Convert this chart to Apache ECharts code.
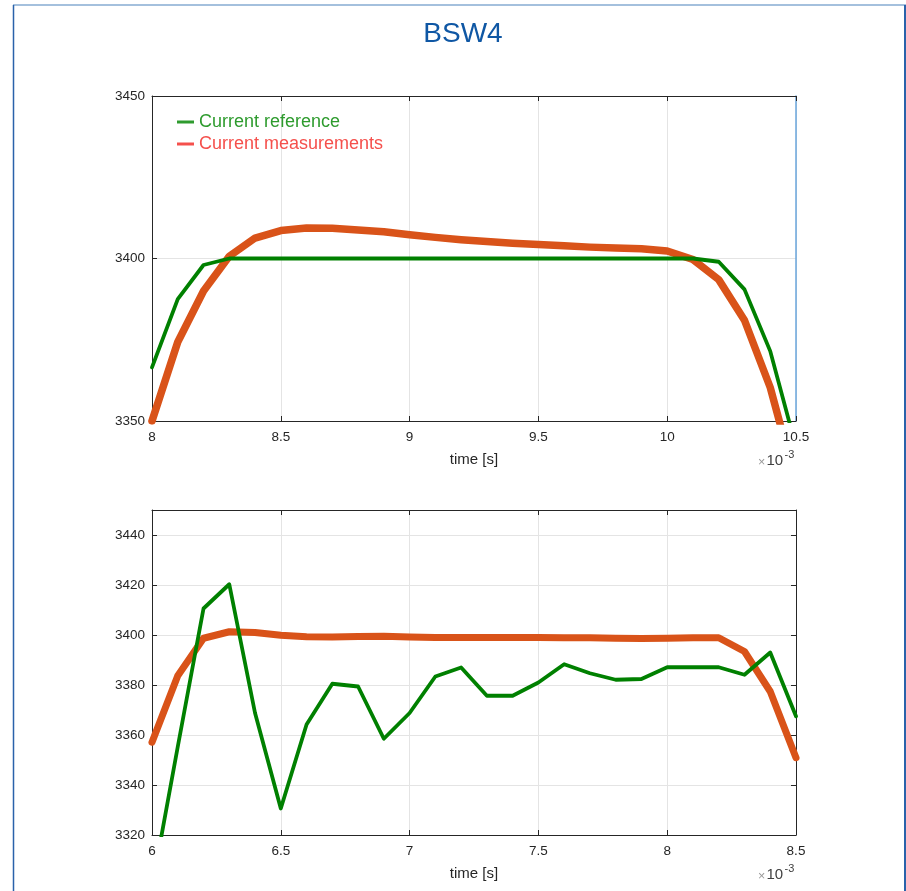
<!DOCTYPE html>
<html>
<head>
<meta charset="utf-8">
<script src="https://cdn.jsdelivr.net/npm/echarts@6/dist/echarts.min.js"></script>
<style>
  html, body { margin: 0; padding: 0; background: #fff; }
  #chart { width: 906px; height: 891px; }
</style>
</head>
<body>
<div id="chart"></div>
<script>
// ---- data (time in ms, the axes carry a x10^-3 multiplier) ----
const titleText = 'BSW4';
const seriesNames = ['Current reference', 'Current measurements'];
const axisTitle = 'time [s]';

const timeTop = [8.0, 8.1, 8.2, 8.3, 8.4, 8.5, 8.6, 8.7, 8.8, 8.9, 9.0, 9.1, 9.2,
                 9.3, 9.4, 9.5, 9.6, 9.7, 9.8, 9.9, 10.0, 10.1, 10.2, 10.3, 10.4, 10.5];
const refTop = [3366.5, 3387.5, 3398, 3400, 3400, 3400, 3400, 3400, 3400, 3400, 3400, 3400, 3400,
                3400, 3400, 3400, 3400, 3400, 3400, 3400, 3400, 3400, 3399, 3390.5, 3371.5, 3342];
const measTop = [3350, 3374.3, 3390, 3400.7, 3406.3, 3408.6, 3409.4, 3409.3, 3408.8, 3408.2, 3407.3, 3406.5, 3405.8,
                 3405.2, 3404.7, 3404.3, 3403.9, 3403.5, 3403.2, 3403.0, 3402.3, 3399.7, 3393.5, 3381, 3360.3, 3331];

const timeBottom = [6.0, 6.1, 6.2, 6.3, 6.4, 6.5, 6.6, 6.7, 6.8, 6.9, 7.0, 7.1, 7.2,
                    7.3, 7.4, 7.5, 7.6, 7.7, 7.8, 7.9, 8.0, 8.1, 8.2, 8.3, 8.4, 8.5];
const refBottom = [3299, 3355.3, 3410.6, 3420.3, 3368.8, 3330.6, 3364.2, 3380.5, 3379.4, 3358.5, 3368.8, 3383.4, 3387,
                   3375.7, 3375.7, 3381, 3388.3, 3384.7, 3382.1, 3382.4, 3387.1, 3387.1, 3387.1, 3384.1, 3393, 3367.5];
const measBottom = [3357.1, 3383.7, 3398.7, 3401.3, 3401.0, 3399.9, 3399.3, 3399.2, 3399.4, 3399.5, 3399.2, 3399.0, 3399.0,
                    3399.0, 3399.0, 3399.0, 3398.9, 3398.9, 3398.7, 3398.6, 3398.7, 3398.9, 3398.9, 3393.4, 3377.4, 3350.9];

// axis ranges: [min, max, interval]
const xRangeTop = [8, 10.5, 0.5];
const yRangeTop = [3350, 3450, 50];
const xRangeBottom = [6, 8.5, 0.5];
const yRangeBottom = [3320, 3450, 20];

// ---- styling ----
const FONT = 'Liberation Sans, Arial, Helvetica, sans-serif';
const AXIS_COLOR = '#262626';
const GRID_COLOR = '#e4e4e4';
const REF_COLOR = '#008000';
const MEAS_COLOR = '#d95319';

const pairs = (xs, ys) => xs.map((x, i) => [x, ys[i]]);
const plain = v => String(Math.round(v * 1000) / 1000);

function boxAxes(gridIndex, xr, yr, rightColor) {
  const tick = { show: true, inside: true, length: 5, lineStyle: { color: AXIS_COLOR, width: 1 } };
  const line = { show: true, lineStyle: { color: AXIS_COLOR, width: 1 } };
  const x = [
    {
      type: 'value', gridIndex, position: 'bottom', min: xr[0], max: xr[1], interval: xr[2],
      axisLine: line, axisTick: tick,
      axisLabel: { color: AXIS_COLOR, fontSize: 13.5, margin: 9, fontFamily: FONT, formatter: plain },
      splitLine: { show: true, lineStyle: { color: GRID_COLOR, width: 1 } },
      name: axisTitle, nameLocation: 'middle', nameGap: 31,
      nameTextStyle: { color: AXIS_COLOR, fontSize: 15, fontFamily: FONT }
    },
    {
      type: 'value', gridIndex, position: 'top', min: xr[0], max: xr[1], interval: xr[2],
      axisLine: line, axisTick: tick, axisLabel: { show: false }, splitLine: { show: false }
    }
  ];
  const y = [
    {
      type: 'value', gridIndex, position: 'left', min: yr[0], max: yr[1], interval: yr[2],
      axisLine: line, axisTick: tick,
      axisLabel: { color: AXIS_COLOR, fontSize: 13.5, margin: 7, fontFamily: FONT, formatter: plain,
                   showMaxLabel: (yr[1] - yr[0]) % yr[2] === 0 },
      splitLine: { show: true, lineStyle: { color: GRID_COLOR, width: 1 } }
    },
    {
      type: 'value', gridIndex, position: 'right', min: yr[0], max: yr[1], interval: yr[2],
      axisLine: { show: true, lineStyle: { color: rightColor || AXIS_COLOR, width: rightColor ? 1.5 : 1 } },
      axisTick: rightColor ? { show: false } : tick,
      axisLabel: { show: false }, splitLine: { show: false }
    }
  ];
  return { x, y };
}

const topAxes = boxAxes(0, xRangeTop, yRangeTop, '#6aa6dc');
const bottomAxes = boxAxes(1, xRangeBottom, yRangeBottom, null);

function lineSeries(name, data, xIdx, yIdx, color, width, z) {
  return {
    type: 'line', name, data, xAxisIndex: xIdx, yAxisIndex: yIdx,
    showSymbol: false, symbol: 'none', smooth: false, clip: true, z,
    lineStyle: { color, width, cap: 'round', join: 'round' },
    itemStyle: { color },
    emphasis: { disabled: true }
  };
}

// small "x10^-3" multiplier next to each time axis
function multiplier(left, cy) {
  const t = (x, y, text, size, fill) => ({
    type: 'text', x, y,
    style: { text, fill, fontSize: size, fontFamily: FONT, align: 'left', verticalAlign: 'middle' }
  });
  return [
    t(left + 1, cy + 1.5, '×', 12.5, '#9a9a9a'),
    t(left + 9.5, cy, '10', 15, '#404040'),
    t(left + 27.5, cy - 6.5, '-3', 11, '#404040')
  ];
}

const chart = echarts.init(document.getElementById('chart'), null, { renderer: 'canvas' });

chart.setOption({
  backgroundColor: '#ffffff',
  animation: false,
  textStyle: { fontFamily: FONT },
  grid: [
    { left: 152, top: 96, width: 644, height: 325, containLabel: false },
    { left: 152, top: 510, width: 644, height: 325, containLabel: false }
  ],
  xAxis: [...topAxes.x, ...bottomAxes.x],
  yAxis: [...topAxes.y, ...bottomAxes.y],
  legend: {
    left: 172, top: 108, orient: 'vertical', itemGap: 4,
    itemWidth: 17, itemHeight: 3, icon: 'rect',
    selectedMode: false,
    textStyle: { fontSize: 18, fontFamily: FONT },
    data: [
      { name: seriesNames[0], itemStyle: { color: '#2e9b2e' }, textStyle: { color: '#2e9b2e' } },
      { name: seriesNames[1], itemStyle: { color: '#f5504c' }, textStyle: { color: '#f5504c' } }
    ]
  },
  series: [
    lineSeries(seriesNames[1], pairs(timeTop, measTop), 0, 0, MEAS_COLOR, 7.5, 2),
    lineSeries(seriesNames[0], pairs(timeTop, refTop), 0, 0, REF_COLOR, 3.8, 3),
    lineSeries(seriesNames[1], pairs(timeBottom, measBottom), 2, 2, MEAS_COLOR, 7, 2),
    lineSeries(seriesNames[0], pairs(timeBottom, refBottom), 2, 2, REF_COLOR, 3.8, 3)
  ],
  graphic: [
    // figure frame
    { type: 'line', shape: { x1: 13, y1: 5, x2: 906, y2: 5 }, style: { stroke: '#86abd2', lineWidth: 1.5 } },
    { type: 'line', shape: { x1: 13.5, y1: 5, x2: 13.5, y2: 891 }, style: { stroke: '#2a62aa', lineWidth: 1.5 } },
    { type: 'line', shape: { x1: 905, y1: 5, x2: 905, y2: 891 }, style: { stroke: '#2a62aa', lineWidth: 2 } },
    { type: 'text', x: 463, y: 34,
      style: { text: titleText, fill: '#0f57a4', fontSize: 28, fontFamily: FONT, align: 'center', verticalAlign: 'middle' } },
    ...multiplier(757, 461),
    ...multiplier(757, 875)
  ]
});
</script>
</body>
</html>
